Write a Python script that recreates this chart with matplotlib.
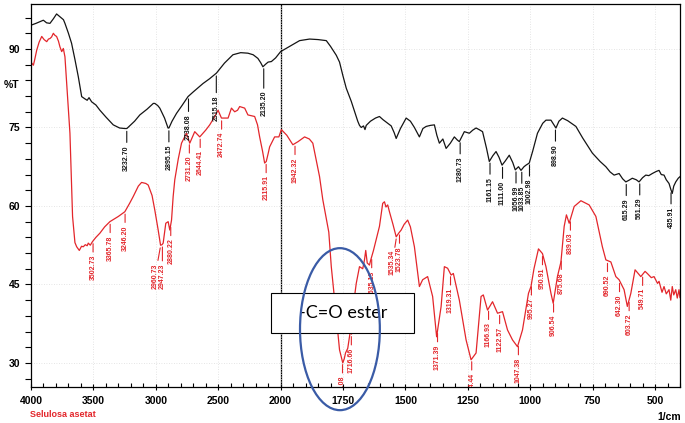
#!/usr/bin/env python3
"""FTIR spectrum of cellulose acetate (two scans), Shimadzu-style layout."""
import numpy as np
import matplotlib
matplotlib.use("Agg")
import matplotlib.pyplot as plt
from matplotlib.patches import Ellipse, Rectangle

RED = "#e3262b"
BLACK = "#141414"
BLUE = "#3a5ba6"

# --- upper (black) spectrum, wavenumber (1/cm) vs %T ---
black_wn = [3994, 3960, 3930, 3901, 3875, 3848, 3820, 3795, 3775, 3754, 3740, 3728,
            3700, 3675, 3648, 3621, 3600, 3594, 3570, 3550, 3535, 3514, 3480, 3448,
            3400, 3341, 3290, 3248, 3232, 3210, 3170, 3128, 3070, 3020, 3008, 2985,
            2968, 2930, 2902, 2895, 2870, 2834, 2790, 2742, 2700, 2622, 2570, 2514,
            2450, 2382, 2320, 2262, 2220, 2182, 2160, 2142, 2120, 2100, 2074, 2040,
            2000, 1960, 1924, 1884, 1850, 1817, 1800, 1777, 1764, 1751, 1737, 1717,
            1700, 1691, 1684, 1677, 1668, 1662, 1657, 1640, 1620, 1604, 1590, 1571,
            1557, 1545, 1537, 1520, 1497, 1480, 1464, 1444, 1430, 1417, 1400, 1384,
            1374, 1364, 1350, 1337, 1320, 1304, 1292, 1284, 1264, 1244, 1230, 1217,
            1205, 1191, 1175, 1164, 1150, 1137, 1125, 1113, 1100, 1084, 1070, 1060,
            1047, 1037, 1025, 1017, 1004, 990, 971, 950, 937, 917, 905, 897,
            885, 871, 850, 817, 790, 751, 720, 697, 680, 664, 644, 630,
            617, 605, 591, 575, 564, 550, 537, 525, 511, 495, 484, 475,
            464, 455, 444, 437, 431, 425, 417, 407, 400]
black_t = [94.6, 94.9, 95.2, 95.5, 95.0, 94.9, 95.8, 96.7, 96.3, 95.9, 95.6, 94.9,
           93.0, 91.1, 88.0, 84.7, 81.8, 80.9, 80.5, 80.2, 80.7, 79.9, 79.3, 78.3,
           77.0, 75.5, 74.9, 74.8, 74.8, 75.3, 76.2, 77.4, 78.5, 79.6, 79.6, 79.2,
           78.7, 76.8, 74.9, 74.9, 76.2, 77.7, 79.2, 80.9, 81.8, 83.4, 84.3, 85.4,
           87.3, 88.9, 89.3, 89.2, 88.9, 88.2, 87.4, 86.6, 87.1, 87.5, 87.6, 88.3,
           89.5, 90.6, 91.6, 91.9, 91.8, 91.6, 90.5, 88.8, 87.5, 85.0, 82.5, 80.0,
           77.5, 76.2, 75.4, 75.0, 75.3, 74.6, 75.4, 76.2, 76.8, 77.1, 76.5, 75.8,
           75.3, 74.0, 72.9, 74.8, 76.8, 76.2, 75.0, 73.2, 74.8, 75.2, 75.4, 75.5,
           73.5, 72.0, 72.8, 71.0, 72.0, 73.2, 72.6, 72.3, 74.2, 73.9, 74.5, 74.9,
           74.6, 74.2, 71.0, 68.5, 69.6, 70.4, 69.3, 67.8, 68.6, 69.7, 68.3, 66.9,
           67.5, 66.8, 67.5, 67.8, 68.2, 70.5, 73.9, 75.8, 76.4, 76.4, 75.5, 74.9,
           76.2, 76.8, 76.3, 75.2, 73.0, 70.1, 68.5, 67.5, 66.5, 65.9, 66.2, 65.2,
           64.6, 64.9, 65.3, 65.0, 64.6, 65.4, 65.9, 65.8, 66.2, 66.6, 66.8, 66.0,
           65.9, 65.0, 64.3, 63.2, 62.4, 63.8, 64.6, 65.3, 65.6]

# --- lower (red) spectrum ---
red_wn = [3994, 3981, 3970, 3954, 3935, 3914, 3895, 3874, 3860, 3848, 3835, 3821,
          3808, 3795, 3780, 3768, 3754, 3741, 3728, 3710, 3688, 3667, 3648, 3634,
          3613, 3595, 3581, 3565, 3550, 3541, 3525, 3507, 3480, 3448, 3410, 3368,
          3300, 3248, 3210, 3181, 3140, 3114, 3080, 3061, 3030, 3008, 2981, 2962,
          2950, 2941, 2920, 2901, 2888, 2874, 2861, 2848, 2820, 2794, 2754, 2728,
          2688, 2648, 2600, 2568, 2530, 2501, 2474, 2440, 2421, 2394, 2368, 2345,
          2328, 2288, 2262, 2208, 2185, 2168, 2145, 2128, 2115, 2100, 2088, 2048,
          2014, 1997, 1975, 1951, 1930, 1904, 1885, 1871, 1844, 1831, 1807, 1797,
          1777, 1764, 1751, 1745, 1740, 1731, 1721, 1716, 1711, 1697, 1684, 1671,
          1664, 1659, 1653, 1644, 1640, 1628, 1604, 1591, 1584, 1578, 1571, 1564,
          1550, 1537, 1527, 1517, 1505, 1491, 1480, 1464, 1444, 1431, 1411, 1391,
          1375, 1357, 1344, 1331, 1317, 1308, 1284, 1257, 1237, 1217, 1197, 1188,
          1171, 1151, 1131, 1111, 1091, 1071, 1051, 1031, 1007, 997, 985, 967,
          951, 937, 917, 908, 891, 877, 864, 855, 844, 824, 797, 764,
          737, 711, 697, 677, 657, 644, 624, 611, 597, 580, 557, 540,
          531, 515, 504, 490, 484, 472, 464, 455, 444, 437, 431, 425,
          417, 411, 404, 400]
red_t = [87.3, 86.9, 88.0, 89.8, 91.3, 92.4, 91.8, 91.4, 91.9, 92.0, 92.3, 93.0,
         92.6, 92.4, 91.5, 90.4, 89.5, 90.1, 88.5, 82.0, 73.9, 58.0, 53.0, 52.2,
         51.5, 52.3, 52.2, 52.6, 52.4, 52.9, 52.5, 53.2, 54.0, 54.8, 56.0, 57.0,
         58.0, 58.9, 60.5, 61.8, 63.8, 64.5, 64.3, 64.0, 62.0, 59.2, 55.4, 52.5,
         52.6, 52.9, 56.7, 57.0, 55.4, 57.3, 61.8, 65.0, 69.0, 72.0, 73.9, 72.0,
         74.2, 73.2, 74.5, 75.5, 77.0, 78.3, 76.8, 76.8, 76.8, 78.7, 78.0, 78.3,
         79.0, 78.7, 77.4, 77.1, 75.5, 73.2, 70.5, 68.2, 68.5, 70.0, 71.3, 73.2,
         73.2, 74.6, 73.5, 71.7, 72.3, 73.2, 72.8, 72.0, 65.6, 61.2, 55.0, 48.4,
         38.9, 32.5, 30.0, 30.8, 31.9, 32.8, 36.0, 35.5, 40.1, 45.2, 48.4, 48.0,
         49.7, 51.5, 49.1, 48.7, 49.5, 51.5, 56.1, 60.5, 60.8, 59.8, 60.2, 58.9,
         56.5, 54.1, 54.8, 55.4, 56.5, 57.3, 56.0, 52.2, 44.6, 45.9, 46.5, 42.7,
         35.0, 40.8, 48.4, 48.1, 46.8, 47.1, 42.0, 34.4, 30.6, 31.9, 42.7, 43.0,
         40.1, 41.7, 39.5, 39.8, 36.3, 34.4, 33.1, 36.3, 43.3, 44.6, 48.0, 51.8,
         50.9, 48.4, 43.3, 41.4, 46.5, 49.3, 56.1, 58.3, 56.7, 59.9, 61.0, 60.2,
         58.0, 52.2, 49.7, 49.3, 46.5, 45.9, 44.0, 40.8, 43.3, 47.8, 46.5, 47.5,
         47.1, 46.3, 46.5, 45.2, 45.6, 43.5, 44.6, 43.2, 44.0, 42.0, 44.6, 43.0,
         44.0, 42.4, 44.0, 42.5]

black_peaks = ["3232.70", "2895.15", "2738.08", "2515.18", "2135.20", "1280.73",
               "1161.15", "1111.00", "1056.99", "1033.85", "1002.98", "898.90",
               "615.29", "561.29", "435.91"]
red_peaks = ["3502.73", "3365.78", "3246.20", "2960.73", "2947.23", "2880.22",
             "2731.20", "2644.41", "2472.74", "2115.91", "1942.32", "1752.08",
             "1716.66", "1635.13", "1535.34", "1523.78", "1371.39", "1319.31",
             "1234.44", "1166.93", "1122.57", "1047.38", "995.27", "950.91",
             "906.54", "875.68", "839.03", "690.52", "642.30", "603.72", "549.71"]

major_x = [4000, 3500, 3000, 2500, 2000, 1750, 1500, 1250, 1000, 750, 500]
major_y = [30, 45, 60, 75, 90]

# leader tweaks (points) for crowded / shoulder labels
LEAD_LEN = {"2515.18": 14, "2135.20": 16, "2738.08": 11, "2960.73": 11, "2947.23": 12}
LEAD_DX = {"2960.73": -4, "1535.34": -3}


def fwd(x):
    # Shimadzu style: axis is compressed 2x above 2000 1/cm
    x = np.asarray(x, dtype=float)
    return np.where(x > 2000, 2000 + (x - 2000) / 2, x)


def inv(u):
    u = np.asarray(u, dtype=float)
    return np.where(u > 2000, 2000 + (u - 2000) * 2, u)


def label_peaks(ax, wn, t, peaks, color, default_len):
    xs = np.array(wn[::-1], dtype=float)
    ys = np.array(t[::-1], dtype=float)
    for p in peaks:
        x = float(p)
        y = float(np.interp(x, xs, ys))
        ax.annotate(p, xy=(x, y), xytext=(LEAD_DX.get(p, 0), -2 - LEAD_LEN.get(p, default_len)),
                    textcoords="offset points", rotation=90, ha="center", va="top",
                    fontsize=5, fontweight="bold", family="Liberation Sans", color=color,
                    clip_on=True, zorder=3,
                    arrowprops=dict(arrowstyle="-", color=color, lw=0.8,
                                    shrinkA=0, shrinkB=2))


fig = plt.figure(figsize=(6.85, 4.23), dpi=100)
ax = fig.add_axes([31 / 685, 36 / 423, 649 / 685, 383 / 423])
ax.set_xscale("function", functions=(fwd, inv))
ax.set_xlim(4000, 400)
ax.set_ylim(25.4, 98.6)

ax.plot(black_wn, black_t, color=BLACK, lw=0.9, zorder=2)
ax.plot(red_wn, red_t, color=RED, lw=0.9, zorder=2)
ax.axvline(2000, color="black", lw=0.9, zorder=1.5)

label_peaks(ax, black_wn, black_t, black_peaks, BLACK, 10)
label_peaks(ax, red_wn, red_t, red_peaks, RED, 8)

ax.set_xticks(major_x, labels=[str(v) for v in major_x])
ax.set_xticks(list(range(4000, 2000, -100)) + list(range(2000, 399, -50)), minor=True)
ax.set_yticks(major_y, labels=[str(v) for v in major_y])
ax.set_yticks(list(range(27, 97, 3)), minor=True)
ax.tick_params(axis="x", which="major", direction="inout", length=5, width=0.8, pad=4)
ax.tick_params(axis="x", which="minor", direction="in", length=3, width=0.8)
ax.tick_params(axis="y", which="both", direction="out", length=4.5, width=0.8, pad=3)
for lab in ax.get_xticklabels() + ax.get_yticklabels():
    lab.set_family("Liberation Sans")
    lab.set_fontweight("bold")
    lab.set_fontsize(7.5)
ax.grid(True, which="major", color="#dcdcdc", ls=(0, (1, 2)), lw=0.6)
for s in ax.spines.values():
    s.set_linewidth(0.9)

ax.set_ylabel("%T", rotation=0, family="Liberation Sans", fontweight="bold", fontsize=7.5)
ax.yaxis.set_label_coords(-0.03, 0.775)
ax.set_xlabel("1/cm", family="Liberation Sans", fontweight="bold", fontsize=7.5)
ax.xaxis.set_label_coords(0.983, -0.065)
fig.text(30 / 685, 1 - 414 / 423, "Selulosa asetat", color=RED, family="Liberation Sans",
         fontweight="bold", fontsize=6.5, ha="left", va="center")

# annotation: box + ellipse around the carbonyl band
ax.add_patch(Rectangle((0.370, 0.141), 0.220, 0.104, transform=ax.transAxes,
                       facecolor="white", edgecolor="black", lw=0.8, zorder=4))
ax.text(0.4815, 0.193, "-C=O ester", transform=ax.transAxes, ha="center", va="center",
        family="Lato", fontsize=13, color="black", zorder=5)
ax.add_patch(Ellipse((0.476, 0.151), 0.123, 0.423, transform=ax.transAxes,
                     facecolor="none", edgecolor=BLUE, lw=1.6, clip_on=False, zorder=6))

fig.savefig("out.png", dpi=100)
